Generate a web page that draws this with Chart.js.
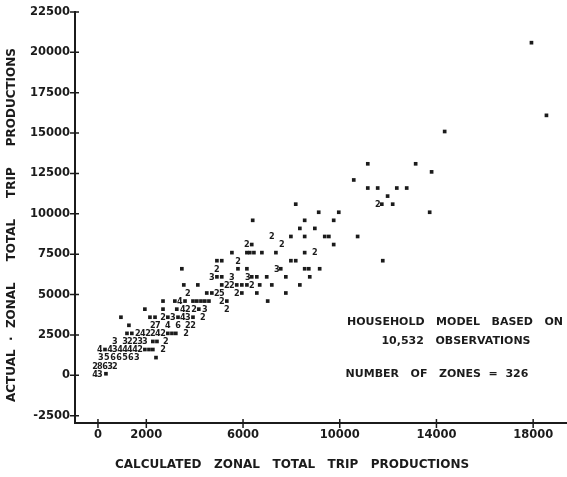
<!DOCTYPE html>
<html>
<head>
<meta charset="utf-8">
<script src="https://cdn.jsdelivr.net/npm/chart.js@4.4.1/dist/chart.umd.min.js"></script>
<style>
  html, body { margin: 0; padding: 0; background: #fff; }
  #wrap { width: 567px; height: 477px; position: relative; }
</style>
</head>
<body>
<div id="wrap"><canvas id="chart"></canvas></div>
<script>
// Axis tick labels and titles
const xTicks = [0, 2000, 6000, 10000, 14000, 18000];
const yTicks = [-2500, 0, 2500, 5000, 7500, 10000, 12500, 15000, 17500, 20000, 22500];
const xTitle = 'CALCULATED   ZONAL   TOTAL   TRIP   PRODUCTIONS';
const yTitle = 'ACTUAL  ·  ZONAL     TOTAL     TRIP     PRODUCTIONS';

// Zones printed as a single dot (one zone in the print cell)
const oneX = [330, 2400, 290, 1940, 2110, 2270, 2270, 2440,
  1200, 1400, 2890, 3060, 3220, 1280,
  950, 2150, 2360, 2890, 3310, 3930,
  1940, 2690, 3260, 4170,
  2690, 3180, 3600, 3930, 4090, 4260, 4420, 4590, 5330, 7020,
  4500, 4710, 5950, 6570, 7770,
  3550, 4130, 5120, 5740, 5950, 6160, 6690, 7190, 8350,
  4920, 5120, 6360, 6570, 6980, 7770, 8760,
  3470, 5790, 6160, 7560, 8550, 8720, 9170,
  4920, 5120, 7980, 8180, 11780,
  5540, 6160, 6280, 6450, 6780, 7360, 8550,
  6360, 9750,
  7980, 8550, 9380, 9550, 10740,
  8350, 8970,
  6400, 8550, 9750,
  9130, 9960, 13720,
  8180, 11740, 12190,
  11980,
  11160, 11570, 12360, 12770,
  10580, 13800, 11160, 13140,
  14340, 18550, 17930];
const oneY = [100, 1100, 1600, 1600, 1600, 1600, 2100, 2100,
  2600, 2600, 2600, 2600, 2600, 3100,
  3600, 3600, 3600, 3600, 3600, 3600,
  4100, 4100, 4100, 4100,
  4600, 4600, 4600, 4600, 4600, 4600, 4600, 4600, 4600, 4600,
  5100, 5100, 5100, 5100, 5100,
  5600, 5600, 5600, 5600, 5600, 5600, 5600, 5600, 5600,
  6100, 6100, 6100, 6100, 6100, 6100, 6100,
  6600, 6600, 6600, 6600, 6600, 6600, 6600,
  7100, 7100, 7100, 7100, 7100,
  7600, 7600, 7600, 7600, 7600, 7600, 7600,
  8100, 8100,
  8600, 8600, 8600, 8600, 8600,
  9100, 9100,
  9600, 9600, 9600,
  10100, 10100, 10100,
  10600, 10600, 10600,
  11100,
  11600, 11600, 11600, 11600,
  12100, 12600, 13100, 13100,
  15100, 16100, 20600];

// Cells holding several zones, printed as the count
const manyX = [-120, 80,
  -120, 80, 290, 500, 700,
  120, 370, 620, 870, 1120, 1360, 1610,
  80, 500, 700, 910, 1120, 1320, 1530, 1740, 2690,
  700, 1120, 1320, 1530, 1740, 1940, 2810,
  1650, 1860, 2070, 2270, 2480, 2690, 3640,
  2270, 2480, 2890, 3310, 3720, 3930,
  2690, 3100, 3510, 3720, 4340,
  3510, 3720, 3970, 4420, 5330,
  3390, 5120,
  3720, 4920, 5120, 5740,
  5330, 5540, 6360,
  4710, 5540, 6200,
  4920, 7400,
  5790, 8970, 6160, 7600, 7190, 11570];
const manyY = [100, 100,
  600, 600, 600, 600, 600,
  1100, 1100, 1100, 1100, 1100, 1100, 1100,
  1600, 1600, 1600, 1600, 1600, 1600, 1600, 1600, 1600,
  2100, 2100, 2100, 2100, 2100, 2100, 2100,
  2600, 2600, 2600, 2600, 2600, 2600, 2600,
  3100, 3100, 3100, 3100, 3100, 3100,
  3600, 3600, 3600, 3600, 3600,
  4100, 4100, 4100, 4100, 4100,
  4600, 4600,
  5100, 5100, 5100, 5100,
  5600, 5600, 5600,
  6100, 6100, 6100,
  6600, 6600,
  7100, 7600, 8100, 8100, 8600, 10600];
const manyN = [4, 3,
  2, 8, 6, 3, 2,
  3, 5, 6, 6, 5, 6, 3,
  4, 4, 3, 4, 4, 4, 4, 2, 2,
  3, 3, 2, 2, 3, 3, 2,
  2, 4, 2, 2, 4, 2, 2,
  2, 7, 4, 6, 2, 2,
  2, 3, 4, 3, 2,
  4, 2, 2, 3, 2,
  4, 2,
  2, 2, 5, 2,
  2, 2, 2,
  3, 3, 3,
  2, 3,
  2, 2, 2, 2, 2, 2];

const ink = '#1b1b1b';
const labelFont = { family: '"DejaVu Sans", sans-serif', size: 11.5, weight: 'bold' };

// "+" shaped tick marks crossing both axes
const crossTicks = {
  id: 'crossTicks',
  afterDraw(chart) {
    const { ctx, chartArea: a, scales: { x, y } } = chart;
    ctx.save();
    ctx.strokeStyle = ink;
    ctx.lineWidth = 1.5;
    ctx.beginPath();
    y.ticks.forEach(t => {
      const py = y.getPixelForValue(t.value);
      ctx.moveTo(a.left - 5, py); ctx.lineTo(a.left + 4, py);
    });
    x.ticks.forEach(t => {
      const px = x.getPixelForValue(t.value);
      ctx.moveTo(px, a.bottom - 4); ctx.lineTo(px, a.bottom + 5);
    });
    ctx.stroke();
    ctx.restore();
  }
};

// count digits for the multi-zone cells
const digitMarks = {
  id: 'digitMarks',
  afterDatasetsDraw(chart) {
    const ctx = chart.ctx;
    const meta = chart.getDatasetMeta(1);
    ctx.save();
    ctx.font = 'bold 9px "DejaVu Sans Condensed", "DejaVu Sans", sans-serif';
    ctx.fillStyle = ink;
    ctx.textAlign = 'center';
    ctx.textBaseline = 'middle';
    meta.data.forEach((pt, i) => ctx.fillText(String(manyN[i]), pt.x, pt.y + 0.5));
    ctx.restore();
  }
};

// axis titles (placed like the original, not centred on the axes) + model note
const notes = {
  id: 'notes',
  afterDraw(chart) {
    const ctx = chart.ctx;
    ctx.save();
    ctx.fillStyle = ink;
    ctx.textAlign = 'center';
    ctx.textBaseline = 'middle';
    ctx.font = 'bold 12px "DejaVu Sans", sans-serif';
    ctx.fillText(xTitle, 292, 465);
    ctx.save();
    ctx.translate(12, 225);
    ctx.rotate(-Math.PI / 2);
    ctx.fillText(yTitle, 0, 0);
    ctx.restore();
    ctx.font = 'bold 11px "DejaVu Sans", sans-serif';
    ctx.fillText('HOUSEHOLD   MODEL   BASED   ON', 455, 322);
    ctx.fillText('10,532   OBSERVATIONS', 456, 341);
    ctx.fillText('NUMBER   OF   ZONES  =  326', 437, 374);
    ctx.restore();
  }
};

new Chart(document.getElementById('chart'), {
  type: 'scatter',
  data: {
    datasets: [
      {
        data: oneX.map((v, i) => ({ x: v, y: oneY[i] })),
        pointStyle: 'rect', pointRadius: 2.6, borderWidth: 0,
        backgroundColor: ink
      },
      {
        data: manyX.map((v, i) => ({ x: v, y: manyY[i] })),
        pointRadius: 0
      }
    ]
  },
  options: {
    responsive: true, maintainAspectRatio: false, animation: false,
    layout: { autoPadding: false, padding: { top: 12, right: 0, left: 0, bottom: 0 } },
    plugins: { legend: { display: false }, tooltip: { enabled: false } },
    scales: {
      x: {
        type: 'linear', min: -950, max: 19400,
        afterBuildTicks: s => { s.ticks = xTicks.map(v => ({ value: v })); },
        afterFit: s => { s.height = 54; },
        ticks: { padding: 5, font: labelFont, color: ink, maxRotation: 0, autoSkip: false, callback: v => String(v) },
        grid: { drawOnChartArea: false, drawTicks: false },
        border: { color: ink, width: 2 }
      },
      y: {
        type: 'linear', min: -2950, max: 22500,
        afterBuildTicks: s => { s.ticks = yTicks.map(v => ({ value: v })); },
        afterFit: s => { s.width = 75; },
        ticks: { padding: 5, font: labelFont, color: ink, autoSkip: false, callback: v => String(v) },
        grid: { drawOnChartArea: false, drawTicks: false },
        border: { color: ink, width: 2 }
      }
    }
  },
  plugins: [crossTicks, digitMarks, notes]
});
</script>
</body>
</html>
